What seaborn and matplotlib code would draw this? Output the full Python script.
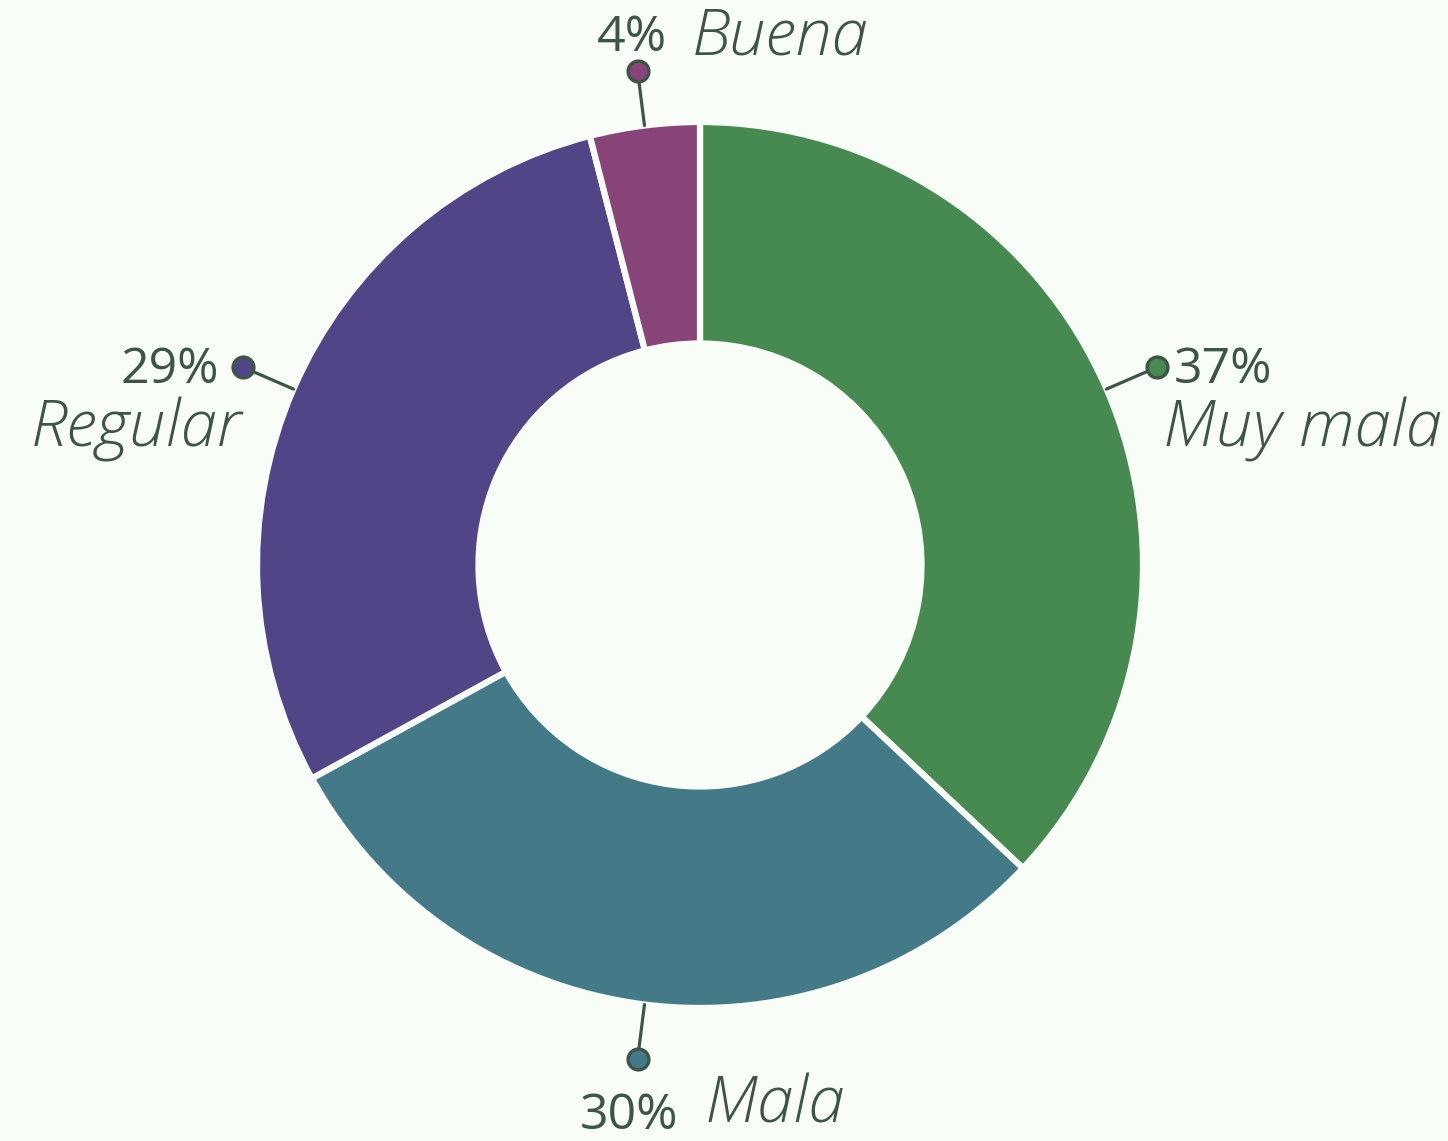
import numpy as np
import matplotlib.pyplot as plt
import seaborn as sns

# slice data, clockwise from 12 o'clock
labels = ["Muy mala", "Mala", "Regular", "Buena"]
values = [37, 30, 29, 4]
colors = ["#468a52", "#447a88", "#514487", "#884479"]

BG = "#f8fdf7"
INK = "#3d5447"

# label offsets from the marker dot, in pixels (pct, name)
offsets = {
    "Muy mala": ((16, -3, "left"), (6, -62, "left")),
    "Mala": ((-58, -57, "left"), (67, -46, "left")),
    "Regular": ((-24, -3, "right"), (-1, -62, "right")),
    "Buena": ((29, 32, "right"), (54, 33, "left")),
}

sns.set_theme(style="white", rc={"figure.facecolor": BG, "axes.facecolor": BG})
plt.rcParams["font.family"] = ["Open Sans", "Lato", "DejaVu Sans"]

W, H, dpi = 1448, 1141, 100
fig = plt.figure(figsize=(W / dpi, H / dpi), dpi=dpi)
ax = fig.add_axes([0, 0, 1, 1])
R = 443.0
cx, cy = 700.0, 565.0

wedges, _ = ax.pie(values, colors=colors, startangle=90, counterclock=False,
                   radius=1.0, wedgeprops=dict(width=0.5, edgecolor=BG, linewidth=4.5))

# pie() resets the limits, so set them afterwards
ax.set_xlim(-cx / R, (W - cx) / R)
ax.set_ylim(-(H - cy) / R, cy / R)
ax.set_aspect("equal")
ax.axis("off")

total = sum(values)
start = 90.0
for lab, val, col in zip(labels, values, colors):
    sweep = 360.0 * val / total
    mid = np.deg2rad(start - sweep / 2)
    start -= sweep
    x0, y0 = np.cos(mid), np.sin(mid)
    xm, ym = 1.125 * x0, 1.125 * y0
    ax.plot([x0, xm], [y0, ym], color=INK, lw=2.3, solid_capstyle="round", zorder=3)
    ax.plot(xm, ym, "o", ms=15, mfc=col, mec=INK, mew=2.4, zorder=4)
    (px, py, pha), (nx, ny, nha) = offsets[lab]
    ax.annotate(f"{val}%", (xm, ym), xytext=(px * 0.72, py * 0.72),
                textcoords="offset points", ha=pha, va="center",
                fontsize=36, fontweight="normal", color=INK)
    ax.annotate(lab, (xm, ym), xytext=(nx * 0.72, ny * 0.72),
                textcoords="offset points", ha=nha, va="center",
                fontsize=47, fontweight="light", fontstyle="italic", color=INK)

fig.savefig("out.png", dpi=dpi, facecolor=BG)
